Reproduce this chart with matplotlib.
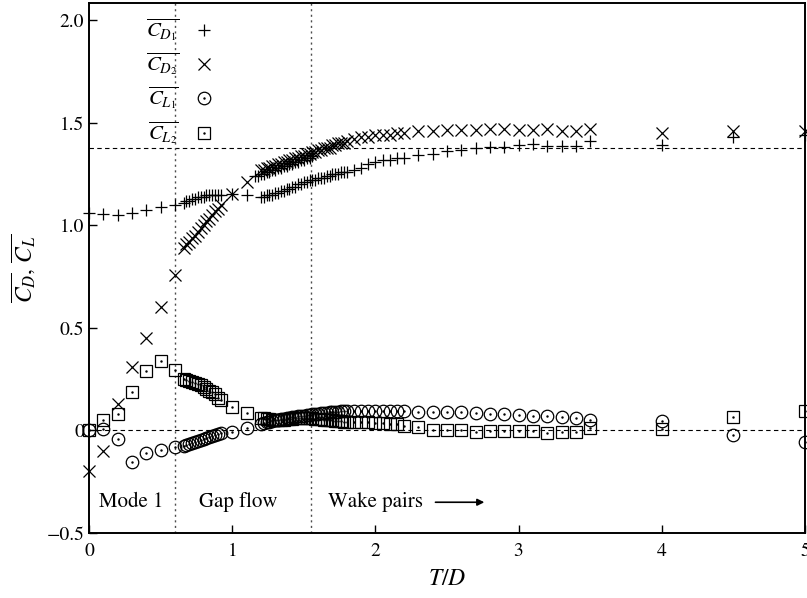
import matplotlib
matplotlib.use("Agg")
import matplotlib.pyplot as plt
import numpy as np

plt.rcParams['font.family'] = 'STIXGeneral'
plt.rcParams['mathtext.fontset'] = 'stix'

# T/D values (sparse, dense in the gap-flow range, sparse again)
t = [0, 0.1, 0.2, 0.3, 0.4, 0.5, 0.6,
     0.66, 0.68, 0.70, 0.72, 0.74, 0.76, 0.78, 0.80, 0.82, 0.84, 0.86, 0.88, 0.90, 0.92,
     1.0, 1.1,
     1.20, 1.22, 1.24, 1.26, 1.28, 1.30, 1.32, 1.34, 1.36, 1.38, 1.40, 1.42, 1.44, 1.46,
     1.48, 1.50, 1.52, 1.54, 1.56, 1.58, 1.60, 1.62, 1.64, 1.66, 1.68, 1.70, 1.72, 1.74,
     1.76, 1.78, 1.80,
     1.85, 1.90, 1.95, 2.00, 2.05, 2.10, 2.15, 2.20,
     2.3, 2.4, 2.5, 2.6, 2.7, 2.8, 2.9, 3.0, 3.1, 3.2, 3.3, 3.4, 3.5,
     4.0, 4.5, 5.0]

cd1 = [1.06, 1.055, 1.05, 1.06, 1.075, 1.09, 1.10,
       1.11, 1.12, 1.12, 1.13, 1.13, 1.14, 1.14, 1.14, 1.15, 1.15, 1.15, 1.15, 1.15, 1.15,
       1.155, 1.15,
       1.14, 1.14, 1.15, 1.15, 1.15, 1.16, 1.16, 1.17, 1.17, 1.18, 1.18, 1.19, 1.19, 1.20,
       1.20, 1.21, 1.21, 1.22, 1.22, 1.22, 1.23, 1.23, 1.23, 1.24, 1.24, 1.25, 1.25, 1.25,
       1.26, 1.26, 1.26,
       1.27, 1.28, 1.30, 1.31, 1.32, 1.32, 1.33, 1.33,
       1.345, 1.35, 1.365, 1.367, 1.38, 1.385, 1.385, 1.39, 1.395, 1.387, 1.387, 1.387, 1.41,
       1.39, 1.43, 1.44]

cd2 = [-0.20, -0.10, 0.13, 0.31, 0.45, 0.60, 0.76,
       0.89, 0.91, 0.92, 0.94, 0.95, 0.97, 0.99, 1.00, 1.02, 1.03, 1.05, 1.07, 1.08, 1.10,
       1.155, 1.21,
       1.27, 1.27, 1.28, 1.28, 1.29, 1.29, 1.30, 1.30, 1.31, 1.31, 1.32, 1.32, 1.33, 1.33,
       1.34, 1.34, 1.35, 1.35, 1.36, 1.36, 1.37, 1.37, 1.38, 1.38, 1.38, 1.39, 1.39, 1.40,
       1.40, 1.40, 1.41,
       1.42, 1.43, 1.43, 1.44, 1.44, 1.44, 1.45, 1.45,
       1.46, 1.46, 1.465, 1.465, 1.465, 1.47, 1.47, 1.465, 1.465, 1.47, 1.46, 1.46, 1.47,
       1.45, 1.46, 1.46]

cl1 = [0.0, 0.005, -0.04, -0.155, -0.11, -0.095, -0.08,
       -0.075, -0.07, -0.065, -0.06, -0.055, -0.05, -0.045, -0.04, -0.035, -0.03, -0.025, -0.02, -0.015, -0.012,
       -0.007, 0.01,
       0.03, 0.035, 0.04, 0.04, 0.045, 0.05, 0.05, 0.055, 0.055, 0.06, 0.06, 0.065, 0.065, 0.07,
       0.07, 0.07, 0.075, 0.075, 0.08, 0.08, 0.08, 0.085, 0.085, 0.085, 0.09, 0.09, 0.09, 0.09,
       0.095, 0.095, 0.095,
       0.095, 0.095, 0.095, 0.095, 0.095, 0.095, 0.095, 0.095,
       0.091, 0.091, 0.091, 0.091, 0.083, 0.078, 0.078, 0.075, 0.072, 0.072, 0.068, 0.063, 0.05,
       0.044, -0.023, -0.055]

cl2 = [0.0, 0.05, 0.08, 0.19, 0.29, 0.34, 0.295,
       0.25, 0.245, 0.24, 0.235, 0.23, 0.225, 0.22, 0.21, 0.20, 0.195, 0.19, 0.18, 0.16, 0.15,
       0.115, 0.083,
       0.06, 0.06, 0.055, 0.055, 0.05, 0.05, 0.05, 0.05, 0.05, 0.055, 0.055, 0.055, 0.06, 0.06,
       0.06, 0.06, 0.06, 0.06, 0.06, 0.055, 0.055, 0.055, 0.05, 0.05, 0.05, 0.05, 0.045, 0.045,
       0.045, 0.04, 0.04,
       0.04, 0.04, 0.04, 0.035, 0.035, 0.03, 0.03, 0.02,
       0.018, 0.0, 0.0, 0.0, -0.007, -0.003, -0.003, -0.003, -0.003, -0.01, -0.007, -0.007, 0.01,
       0.005, 0.067, 0.094]

# second branch of the upstream drag in the bistable range
t_alt = [1.16, 1.18, 1.20, 1.22, 1.24, 1.26, 1.28, 1.30, 1.32, 1.34, 1.36,
         1.38, 1.40, 1.42, 1.44, 1.46, 1.48, 1.50, 1.52, 1.54, 1.56]
cd1_alt = [1.24, 1.24, 1.25, 1.25, 1.26, 1.26, 1.27, 1.27, 1.28, 1.28, 1.29,
           1.29, 1.30, 1.30, 1.31, 1.31, 1.32, 1.32, 1.33, 1.33, 1.34]

cd_mean = 1.38
gap_lines = [0.6, 1.55]

fig = plt.figure(figsize=(8.07, 5.98), dpi=100)
ax = fig.add_axes([89/807, 1 - 533/598, 716/807, 530/598])

# reference lines
ax.axhline(cd_mean, color='k', ls=(0, (4, 3)), lw=0.8, zorder=1)
ax.axhline(0, color='k', ls=(0, (4, 3)), lw=0.8, zorder=1)
for xv in gap_lines:
    ax.axvline(xv, color='0.3', ls=(0, (1.5, 2.5)), lw=1.0, zorder=1)

h1, = ax.plot(t, cd1, '+', color='k', ms=9, mew=0.9, clip_on=False)
ax.plot(t_alt, cd1_alt, '+', color='k', ms=9, mew=0.9)
h2, = ax.plot(t, cd2, 'x', color='k', ms=9, mew=0.9, clip_on=False)
h3, = ax.plot(t, cl1, 'o', mfc='none', mec='k', ms=9, mew=0.9, clip_on=False)
d3, = ax.plot(t, cl1, '.', color='k', ms=1.5, clip_on=False)
h4, = ax.plot(t, cl2, 's', mfc='none', mec='k', ms=8.5, mew=0.9, clip_on=False)
d4, = ax.plot(t, cl2, '.', color='k', ms=1.5, clip_on=False)

ax.legend([h1, h2, (h3, d3), (h4, d4)],
          [r'$\overline{C_{D_1}}$', r'$\overline{C_{D_2}}$',
           r'$\overline{C_{L_1}}$', r'$\overline{C_{L_2}}$'],
          loc='upper left', bbox_to_anchor=(0.06, 1.0), frameon=False,
          markerfirst=False, fontsize=15, handlelength=1.2, handletextpad=0.6,
          labelspacing=0.35, borderpad=0.15)

# regime labels
ax.text(0.07, -0.35, 'Mode 1', fontsize=15, va='center')
ax.text(0.77, -0.35, 'Gap flow', fontsize=15, va='center')
ax.text(1.67, -0.35, 'Wake pairs', fontsize=15, va='center')
ax.annotate('', xy=(2.78, -0.35), xytext=(2.40, -0.35),
            arrowprops=dict(arrowstyle='-|>', color='k', lw=1.2, mutation_scale=10))

ax.set_xlim(0, 5)
ax.set_ylim(-0.5, 2.085)
ax.set_xticks([0, 1, 2, 3, 4, 5])
ax.set_yticks([-0.5, 0, 0.5, 1.0, 1.5, 2.0])
ax.set_yticklabels(['\u22120.5', '0', '0.5', '1.0', '1.5', '2.0'])
ax.tick_params(direction='in', length=6, width=1.0, labelsize=14, top=False, right=False)
ax.tick_params(axis='x', pad=7)
for s in ax.spines.values():
    s.set_linewidth(1.4)

ax.set_xlabel(r'$T/D$', fontsize=17, labelpad=6)
ax.set_ylabel(r'$\overline{C_D},\,\overline{C_L}$', fontsize=17, labelpad=6)

fig.savefig('out.png', dpi=100)
